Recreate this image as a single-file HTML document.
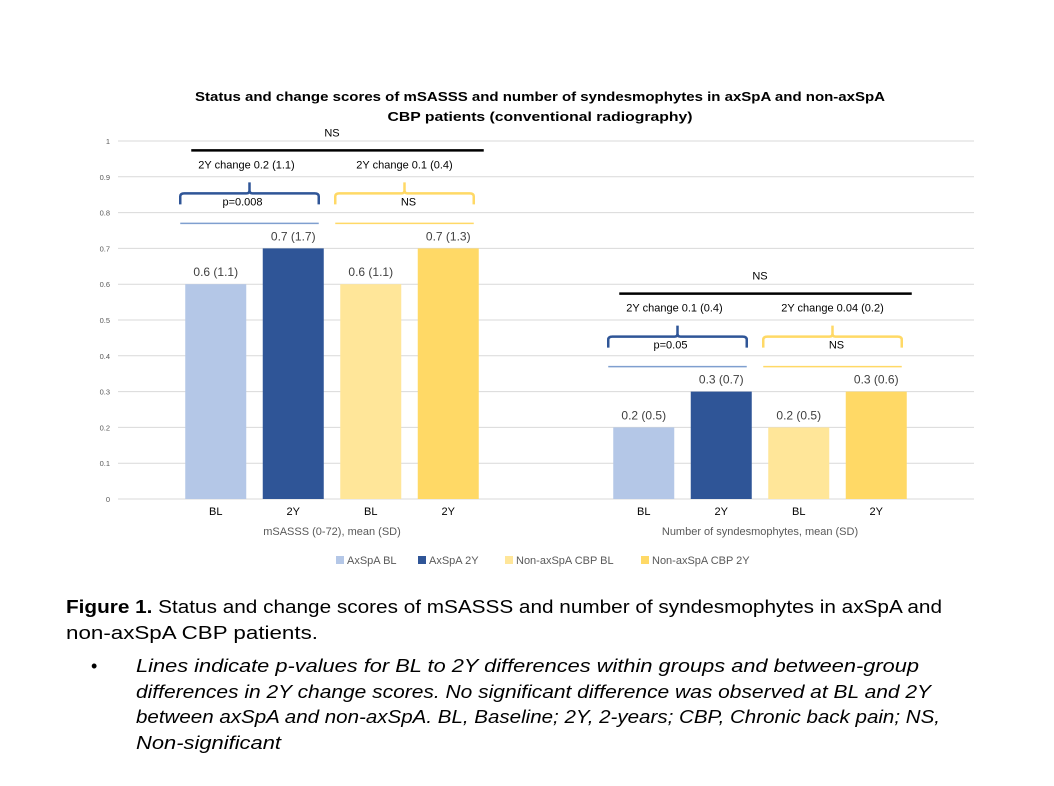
<!DOCTYPE html>
<html><head><meta charset="utf-8">
<style>
html,body{margin:0;padding:0;background:#fff;}
svg{display:block;font-family:"Liberation Sans",sans-serif;}
</style></head>
<body>
<svg id="chart" width="1054" height="786" viewBox="0 0 1054 786" xmlns="http://www.w3.org/2000/svg">
<g font-weight="bold" font-size="13" text-anchor="middle" fill="#000">
<text x="540" y="101" textLength="690" lengthAdjust="spacingAndGlyphs">Status and change scores of mSASSS and number of syndesmophytes in axSpA and non-axSpA</text>
<text x="540" y="121" textLength="305" lengthAdjust="spacingAndGlyphs">CBP patients (conventional radiography)</text>
</g>
<g id="grid"></g>
<g id="yticks"></g>
<g id="bars"></g>
<g id="xlabels"></g>
<g id="annot"></g>
<g id="legend"></g>
<g font-family="'Liberation Sans',sans-serif" font-size="18" fill="#000">
<text x="66" y="613" textLength="876" lengthAdjust="spacingAndGlyphs"><tspan font-weight="bold">Figure 1.</tspan> Status and change scores of mSASSS and number of syndesmophytes in axSpA and</text>
<text x="66" y="639" textLength="252" lengthAdjust="spacingAndGlyphs">non-axSpA CBP patients.</text>
<text x="91" y="672">•</text>
<g font-style="italic">
<text x="136" y="672" textLength="783" lengthAdjust="spacingAndGlyphs">Lines indicate p-values for BL to 2Y differences within groups and between-group</text>
<text x="136" y="698" textLength="795" lengthAdjust="spacingAndGlyphs">differences in 2Y change scores. No significant difference was observed at BL and 2Y</text>
<text x="136" y="723" textLength="804" lengthAdjust="spacingAndGlyphs">between axSpA and non-axSpA. BL, Baseline; 2Y, 2-years; CBP, Chronic back pain; NS,</text>
<text x="136" y="749" textLength="145" lengthAdjust="spacingAndGlyphs">Non-significant</text>
</g>
</g>
</svg>
<script>
const categories = ["mSASSS (0-72), mean (SD)", "Number of syndesmophytes, mean (SD)"];
const seriesNames = ["AxSpA  BL", "AxSpA  2Y", "Non-axSpA CBP BL", "Non-axSpA CBP 2Y"];
const seriesShort = ["BL", "2Y", "BL", "2Y"];
const seriesColors = ["#b4c7e7", "#2f5597", "#ffe699", "#ffd966"];
const axspaBL = [0.6, 0.2];
const axspa2Y = [0.7, 0.3];
const nonBL = [0.6, 0.2];
const non2Y = [0.7, 0.3];
const barLabels = [["0.6 (1.1)", "0.7 (1.7)", "0.6 (1.1)", "0.7 (1.3)"], ["0.2 (0.5)", "0.3 (0.7)", "0.2 (0.5)", "0.3 (0.6)"]];
const yTicks = [0, 0.1, 0.2, 0.3, 0.4, 0.5, 0.6, 0.7, 0.8, 0.9, 1];
const yTickLabels = ["0", "0.1", "0.2", "0.3", "0.4", "0.5", "0.6", "0.7", "0.8", "0.9", "1"];
const changeLabels = [["2Y change 0.2 (1.1)", "2Y change 0.1 (0.4)"], ["2Y change 0.1 (0.4)", "2Y change 0.04 (0.2)"]];
const pLabels = [["p=0.008", "NS"], ["p=0.05", "NS"]];
const betweenLabels = ["NS", "NS"];

const NS = "http://www.w3.org/2000/svg";
const X0 = 118, X1 = 974, Y0 = 499, Y1 = 141;
function yScale(v){ return Y0 - (v - 0) / (1 - 0) * (Y0 - Y1); }
const catW = (X1 - X0) / categories.length;
function catCenter(i){ return X0 + catW * (i + 0.5); }
const step = 77.5, barW = 61;
function barX(ci, si){ return catCenter(ci) + (si - 1.5) * step - barW / 2; }
function mk(tag, attrs, parent, text){
  const e = document.createElementNS(NS, tag);
  for (const k in attrs) e.setAttribute(k, attrs[k]);
  if (text !== undefined) e.textContent = text;
  parent.appendChild(e);
  return e;
}
const series = [axspaBL, axspa2Y, nonBL, non2Y];
const grid = document.getElementById('grid');
const yt = document.getElementById('yticks');
yTicks.forEach((t, i) => {
  const l = mk('line', {x1: X0, x2: X1, y1: yScale(t), y2: yScale(t), stroke: '#d9d9d9', 'stroke-width': 1}, grid);
  
  
  const tx = mk('text', {x: 110, y: yScale(t) + 3, 'font-size': 7.5, fill: '#595959', 'text-anchor': 'end'}, yt, yTickLabels[i]);
  
  
});
const bars = document.getElementById('bars');
const xl = document.getElementById('xlabels');
categories.forEach((c, ci) => {
  series.forEach((s, si) => {
    const x = barX(ci, si), v = s[ci];
    const r = mk('rect', {x: x, y: yScale(v), width: barW, height: yScale(0) - yScale(v), fill: seriesColors[si]}, bars);
    
    
    const t = mk('text', {x: x + barW / 2, y: yScale(v) - 8, 'font-size': 12, fill: '#404040', 'text-anchor': 'middle'}, bars, barLabels[ci][si]);
    
    
    const xt = mk('text', {x: x + barW / 2, y: 515, 'font-size': 11, fill: '#000', 'text-anchor': 'middle'}, xl, seriesShort[si]);
    
    
  });
  const ct = mk('text', {x: catCenter(ci), y: 535, 'font-size': 11, fill: '#595959', 'text-anchor': 'middle'}, xl, c);
  
  
});
// annotations
const an = document.getElementById('annot');
const annColors = ['#2f5597', '#ffd966'];
const lineColors = ['#7f9fcf', '#ffd966'];
categories.forEach((c, ci) => {
  const top = Math.max(axspa2Y[ci], non2Y[ci]);
  const yLine = yScale(top) - 25;
  const yBr = yLine - 19;
  const yChg = yLine - 55;
  const yBlack = yLine - 73;
  const bl = mk('line', {x1: barX(ci,0) + 6, x2: barX(ci,3) + barW + 5, y1: yBlack, y2: yBlack, stroke: '#000', 'stroke-width': 2.5}, an);
  
  
  const nt = mk('text', {x: catCenter(ci), y: yBlack - 14, 'font-size': 11, 'text-anchor': 'middle'}, an, betweenLabels[ci]);
  
  
  [0, 1].forEach(g => {
    const xa = barX(ci, g*2) - 5, xb = barX(ci, g*2+1) + barW - 5;
    const mid = (xa + xb) / 2;
    const ln = mk('line', {x1: xa, x2: xb, y1: yLine, y2: yLine, stroke: lineColors[g], 'stroke-width': 1.5}, an);
    
    
    const br = mk('path', {d: `M${xa},${yBr} L${xa},${yBr-8} Q${xa},${yBr-11} ${xa+4},${yBr-11} L${mid-3},${yBr-11} Q${mid},${yBr-11} ${mid},${yBr-14} L${mid},${yBr-22} M${mid},${yBr-14} Q${mid},${yBr-11} ${mid+3},${yBr-11} L${xb-4},${yBr-11} Q${xb},${yBr-11} ${xb},${yBr-8} L${xb},${yBr}`, fill: 'none', stroke: annColors[g], 'stroke-width': 2.5}, an);
    
    
    const ch = mk('text', {x: mid + (g===0? -3 : 0), y: yChg, 'font-size': 11, 'text-anchor': 'middle'}, an, changeLabels[ci][g]);
    
    
    const pl = mk('text', {x: mid + (g===0? -7 : 4), y: yBr + 1, 'font-size': 11, 'text-anchor': 'middle'}, an, pLabels[ci][g]);
    
    
  });
});
// legend
const lg = document.getElementById('legend');
const legX = [336, 418, 505, 641];
seriesNames.forEach((n, i) => {
  const g = mk('g', {}, lg);
  
  
  mk('rect', {x: legX[i], y: 556, width: 8, height: 8, fill: seriesColors[i]}, g);
  mk('text', {x: legX[i] + 11, y: 564, 'font-size': 11, fill: '#595959', 'xml:space': 'preserve'}, g, n);
});
</script>
</body></html>
